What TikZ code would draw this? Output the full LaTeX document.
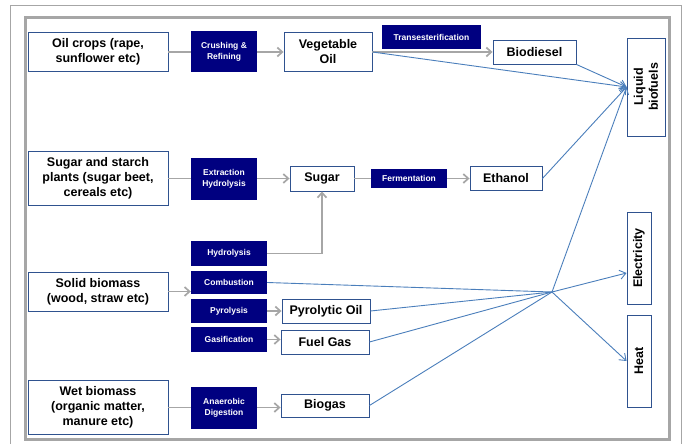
\documentclass[tikz,border=0pt]{standalone}
\usepackage{fontspec}
\setmainfont{Liberation Sans}
\usetikzlibrary{arrows.meta,positioning}

\definecolor{navy}{RGB}{0,0,128}
\definecolor{boxline}{RGB}{47,82,143}
\definecolor{link}{RGB}{74,126,187}
\definecolor{pipegray}{RGB}{166,166,166}

\begin{document}
\begin{tikzpicture}[x=1pt,y=-1pt,
    src/.style={draw=boxline,fill=white,line width=0.9pt,
                minimum width=140pt,align=center,inner sep=2pt,
                font=\fontsize{12.5}{15}\selectfont\bfseries},
    proc/.style={fill=navy,text=white,align=center,inner sep=1pt,
                 font=\fontsize{8.5}{11}\selectfont\bfseries},
    prod/.style={draw=boxline,fill=white,line width=0.9pt,align=center,
                 inner sep=1pt,font=\fontsize{12.5}{15}\selectfont\bfseries},
    sink/.style={prod,rotate=90},
    frame/.style={pipegray},
    feed/.style={line width=1.7pt,pipegray},
    conv/.style={feed,-{Straight Barb[length=5pt,width=9pt]}},
    route/.style={line width=0.9pt,link},
    routeto/.style={route,-{Straight Barb[length=6pt,width=9pt]}},
]
\useasboundingbox (0,0) rectangle (683,444);

% frames
\draw[frame,line width=1.5pt] (10.5,444) |- (681.5,5.5) -- (681.5,444);
\draw[frame,line width=3pt] (25.5,17.5) rectangle (669.5,439.5);

% feedstocks
\node[src,minimum height=39pt] (oil)         at (98,52)    {Oil crops (rape,\\ sunflower etc)};
\node[src,minimum height=54pt] (sugarplants) at (98,178.5) {Sugar and starch\\ plants (sugar beet,\\ cereals etc)};
\node[src,minimum height=39pt] (solid)       at (98,291.5) {Solid biomass\\ (wood, straw etc)};
\node[src,minimum height=54pt] (wet)         at (98,407.5) {Wet biomass\\ (organic matter,\\ manure etc)};

% conversion steps
\node[proc,minimum width=66pt,minimum height=41pt] (crush)   at (224,52)    {Crushing \&\\ Refining};
\node[proc,minimum width=99pt,minimum height=24pt] (trans)   at (431.5,37)  {Transesterification};
\node[proc,minimum width=66pt,minimum height=42pt] (extract) at (224,178.5) {Extraction\\ Hydrolysis};
\node[proc,minimum width=76pt,minimum height=19pt] (ferm)    at (409,178.5) {Fermentation};
\node[proc,minimum width=76pt,minimum height=25pt] (hydro)   at (229,253.5) {Hydrolysis};
\node[proc,minimum width=76pt,minimum height=23pt] (comb)    at (229,282.5) {Combustion};
\node[proc,minimum width=76pt,minimum height=24pt] (pyro)    at (229,311)   {Pyrolysis};
\node[proc,minimum width=76pt,minimum height=25pt] (gasif)   at (229,339.5) {Gasification};
\node[proc,minimum width=66pt,minimum height=42pt] (anaer)   at (224,407.5) {Anaerobic\\ Digestion};

% intermediate products
\node[prod,minimum width=88pt,minimum height=39pt] (vegoil)    at (328,52)    {Vegetable\\ Oil};
\node[prod,minimum width=83pt,minimum height=24pt] (biodiesel) at (534.5,52)  {Biodiesel};
\node[prod,minimum width=64pt,minimum height=25pt] (sugar)     at (322,178.5) {Sugar};
\node[prod,minimum width=72pt,minimum height=24pt] (ethanol)   at (506,178.5) {Ethanol};
\node[prod,minimum width=88pt,minimum height=24pt] (pyroil)    at (326,311)   {Pyrolytic Oil};
\node[prod,minimum width=88pt,minimum height=24pt] (fuelgas)   at (325,342)   {Fuel Gas};
\node[prod,minimum width=88pt,minimum height=23pt] (biogas)    at (325,405.5) {Biogas};

% end uses (rotated, so .north is the left side)
\node[sink,minimum width=98pt,minimum height=38pt] (liquid) at (646,87)  {Liquid\\ biofuels};
\node[sink,minimum width=92pt,minimum height=24pt] (elec)   at (639,258) {Electricity};
\node[sink,minimum width=92pt,minimum height=24pt] (heat)   at (639,361) {Heat};

\coordinate (hub) at (552,292);

% grey process chains
\draw[feed] (oil) -- (crush);
\draw[conv] (crush) -- (vegoil);
\draw[conv] (vegoil) -- (biodiesel);
\draw[feed] (sugarplants) -- (extract);
\draw[conv] (extract) -- (sugar);
\draw[feed] (sugar) -- (ferm);
\draw[conv] (ferm) -- (ethanol);
\draw[conv] (hydro.east) -| (sugar.south);
\draw[conv] (solid.east) -- (solid.east -| comb.west);
\draw[conv] (pyro) -- (pyroil);
\draw[conv] (gasif.east) -- (gasif.east -| fuelgas.west);
\draw[feed] (wet) -- (anaer);
\draw[conv] (anaer.east) -- (anaer.east -| biogas.west);

% routes to liquid biofuels
\draw[routeto] (vegoil.east) -- (liquid.north);
\draw[routeto] (biodiesel.south east) -- (liquid.north);
\draw[routeto] (ethanol.east) -- (liquid.north);
\draw[routeto] (hub) -- (liquid.north);

% routes through the hub to power and heat
\draw[route] (comb.east) -- (hub);
\draw[route] (pyroil.east) -- (hub);
\draw[route] (fuelgas.east) -- (hub);
\draw[route] (biogas.east) -- (hub);
\draw[routeto] (hub) -- ([yshift=-15pt]elec.north);
\draw[routeto] (hub) -- (heat.north);

\end{tikzpicture}
\end{document}
